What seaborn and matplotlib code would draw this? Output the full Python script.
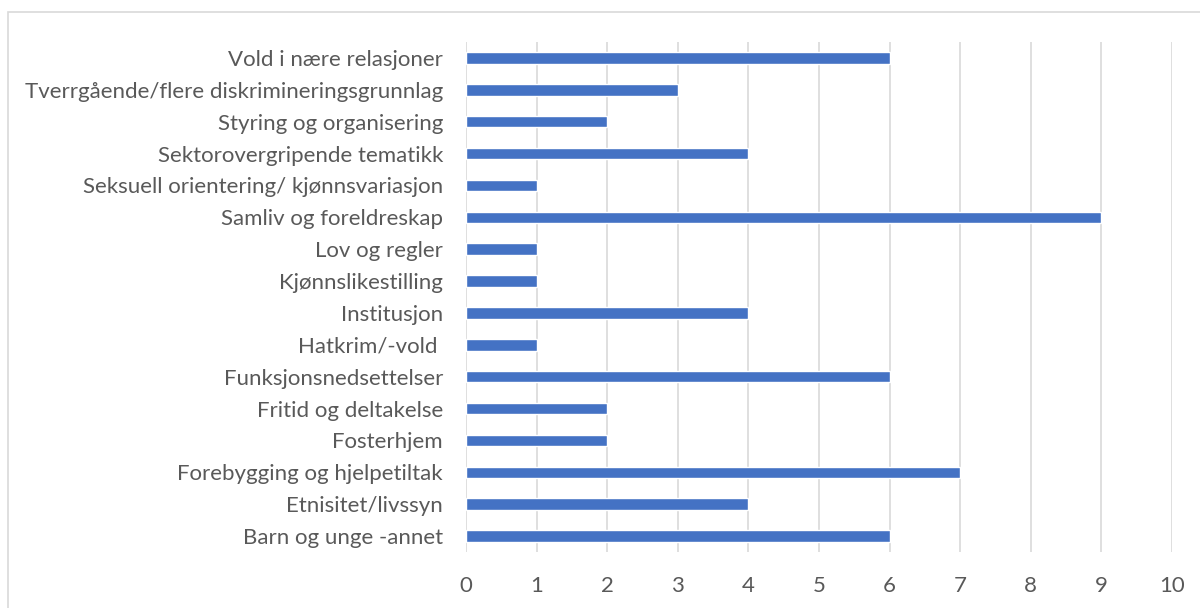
import numpy as np
import pandas as pd
import matplotlib.pyplot as plt
import matplotlib.patches as mpatches
import seaborn as sns

categories = [
    "Vold i nære relasjoner",
    "Tverrgående/flere diskrimineringsgrunnlag",
    "Styring og organisering",
    "Sektorovergripende tematikk",
    "Seksuell orientering/ kjønnsvariasjon",
    "Samliv og foreldreskap",
    "Lov og regler",
    "Kjønnslikestilling",
    "Institusjon",
    "Hatkrim/-vold ",
    "Funksjonsnedsettelser",
    "Fritid og deltakelse",
    "Fosterhjem",
    "Forebygging og hjelpetiltak",
    "Etnisitet/livssyn",
    "Barn og unge -annet",
]
counts = [6, 3, 2, 4, 1, 9, 1, 1, 4, 1, 6, 2, 2, 7, 4, 6]
x_ticks = list(range(0, 11))

df = pd.DataFrame({"kategori": categories, "antall": counts})

sns.set_style("white")
plt.rcParams['font.family'] = ['Lato', 'DejaVu Sans']

fig = plt.figure(figsize=(12, 6.08), dpi=100)
ax = fig.add_axes([466 / 1200, 1 - 552 / 608, (1172 - 466) / 1200, (552 - 42) / 608])

sns.barplot(data=df, x="antall", y="kategori", color="#4472C4", width=0.36,
            saturation=1, ax=ax, zorder=3)

ax.set_xlim(0, 10)
ax.set_xticks(x_ticks)
ax.grid(axis="x", color="#D9D9D9", linewidth=1.2, zorder=0)
ax.set_axisbelow(True)
for s in ax.spines.values():
    s.set_visible(False)
ax.set_xlabel("")
ax.set_ylabel("")
ax.tick_params(axis="both", length=0, labelsize=16, labelcolor="#595959")
ax.tick_params(axis="x", pad=17)
ax.tick_params(axis="y", pad=16.5)

# outer chart border like Excel
fig.patches.append(mpatches.Rectangle((8 / 1200, -0.1), 1.2, 1 - 12 / 608 + 0.1,
                                      transform=fig.transFigure, fill=False,
                                      edgecolor="#D9D9D9", linewidth=1.2))

fig.savefig("out.png", dpi=100)
